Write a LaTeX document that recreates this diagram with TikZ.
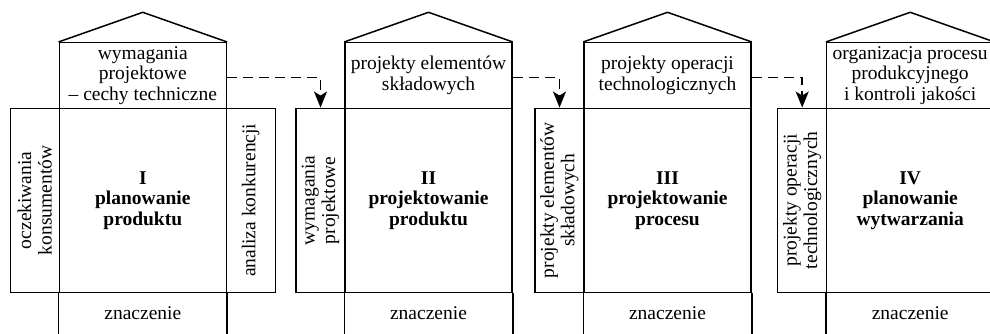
\documentclass[tikz,border=0pt]{standalone}
\usepackage{fontspec}
\setmainfont{Liberation Serif}
\usetikzlibrary{arrows.meta}
\begin{document}
\begin{tikzpicture}[x=1pt,y=-1pt,
  every node/.style={font=\fontsize{19.5}{20.5}\selectfont},
  line width=1.5pt,
  mainbox/.style={draw, minimum width=167pt, minimum height=184pt, inner sep=0pt, align=center,
    font=\fontsize{19.5}{20.5}\selectfont\bfseries},
  topbox/.style={draw, minimum width=167pt, minimum height=65.6pt, inner sep=0pt, align=center},
  sidebox/.style={draw, minimum width=49pt, minimum height=184pt, inner sep=0pt},
  sidetext/.style={rotate=90, align=center, inner sep=0pt},
  labeltext/.style={inner sep=0pt},
  flow/.style={dash pattern=on 10pt off 6pt, -{Stealth[length=16pt,width=13pt,inset=4pt]}},
]
\path[use as bounding box, clip] (0,0) rectangle (990,333);

% ---- stage I ----
\node[topbox]  (t1) at (142.8,75.5) {wymagania\\projektowe\\– cechy techniczne};
\node[mainbox] (m1) at (142.8,200.3) {I\\planowanie\\produktu};
\node[sidebox] (s1) at (34.8,200.3) {};
\node[sidetext] (s1t) at (s1) {oczekiwania\\konsumentów};
\node[sidebox] (r1) at (250.8,200.3) {};
\node[sidetext] (r1t) at (r1) {analiza konkurencji};
\coordinate (a1) at (142.8,12.3);
\node[labeltext] (z1) at (142.8,313) {znaczenie};

% ---- stage II ----
\node[topbox]  (t2) at (428.5,75.5) {projekty elementów\\składowych};
\node[mainbox] (m2) at (428.5,200.3) {II\\projektowanie\\produktu};
\node[sidebox] (s2) at (320.5,200.3) {};
\node[sidetext] (s2t) at (s2) {wymagania\\projektowe};
\coordinate (a2) at (428.5,12.3);
\node[labeltext] (z2) at (428.5,313) {znaczenie};

% ---- stage III ----
\node[topbox]  (t3) at (667.5,75.5) {projekty operacji\\technologicznych};
\node[mainbox] (m3) at (667.5,200.3) {III\\projektowanie\\procesu};
\node[sidebox] (s3) at (559.5,200.3) {};
\node[sidetext] (s3t) at (s3) {projekty elementów\\składowych};
\coordinate (a3) at (667.5,12.3);
\node[labeltext] (z3) at (667.5,313) {znaczenie};

% ---- stage IV ----
\node[topbox]  (t4) at (910.2,75.5) {organizacja procesu\\produkcyjnego\\i kontroli jakości};
\node[mainbox] (m4) at (910.2,200.3) {IV\\planowanie\\wytwarzania};
\node[sidebox] (s4) at (802.2,200.3) {};
\node[sidetext] (s4t) at (s4) {projekty operacji\\technologicznych};
\coordinate (a4) at (910.2,12.3);
\node[labeltext] (z4) at (910.2,313) {znaczenie};

% roofs and the open columns below each matrix
\foreach \i in {1,2,3,4} {
  \draw[line join=miter] (t\i.north west) -- (a\i) -- (t\i.north east);
  \draw (m\i.south west) -- ++(0,50);
  \draw (m\i.south east) -- ++(0,50);
}

% dashed flows between stages
\draw[flow] ([yshift=-2pt]t1.east) -| (s2.north);
\draw[flow] ([yshift=-2pt]t2.east) -| (s3.north);
\draw[flow] ([yshift=-2pt]t3.east) -| (s4.north);
\end{tikzpicture}
\end{document}
